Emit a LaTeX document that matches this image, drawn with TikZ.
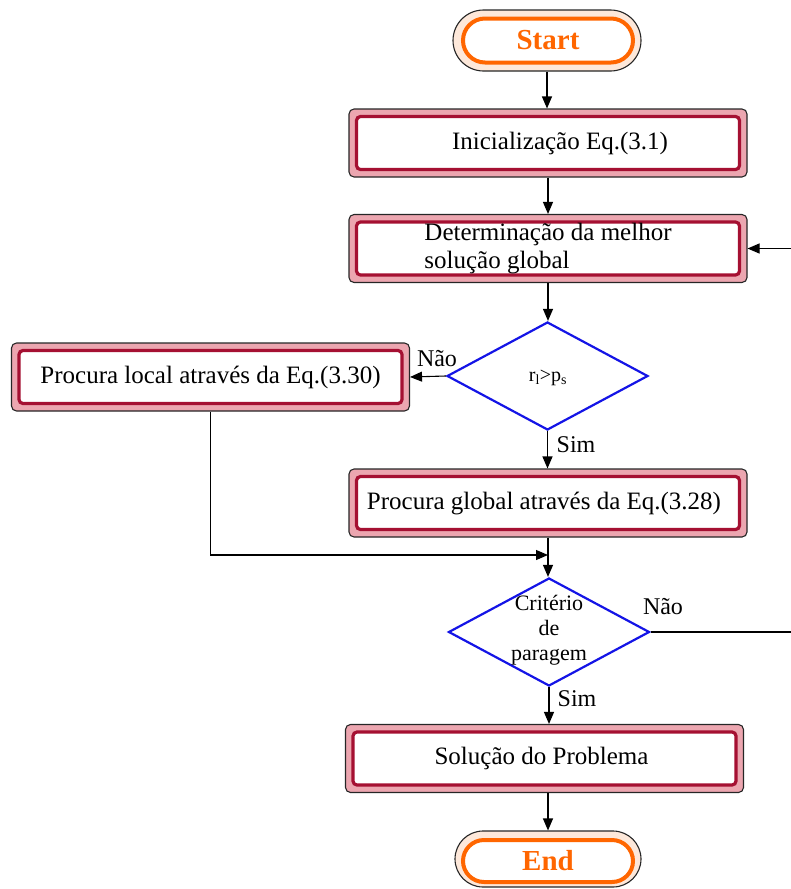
\documentclass[tikz,border=0pt]{standalone}
\usepackage{fontspec}
\setmainfont{Liberation Serif}
\usetikzlibrary{shapes.geometric,shapes.misc,arrows.meta,calc}
\definecolor{boxpink}{RGB}{236,166,176}
\definecolor{boxred}{RGB}{165,16,50}
\definecolor{termfill}{RGB}{253,232,218}
\definecolor{termline}{RGB}{255,102,0}
\definecolor{decblue}{RGB}{20,20,230}
\begin{document}
\begin{tikzpicture}[x=1pt,y=-1pt,
  procout/.style={draw=black!85, line width=1.1pt, fill=boxpink, rounded corners=5pt,
    minimum width=398pt, minimum height=68pt, inner sep=0pt},
  procin/.style={draw=boxred, line width=3.2pt, fill=white, rounded corners=4pt,
    minimum width=383pt, minimum height=53pt, inner sep=0pt,
    font=\fontsize{25}{28}\selectfont, align=center},
  termout/.style={rounded rectangle, draw=black!85, line width=1.1pt, fill=termfill,
    minimum width=188pt, minimum height=61pt, inner sep=0pt},
  termin/.style={rounded rectangle, draw=termline, line width=4pt, fill=white,
    minimum width=170pt, minimum height=44pt, inner sep=0pt, text=termline,
    font=\fontsize{29}{31}\selectfont\bfseries},
  decision/.style={diamond, draw=decblue, line width=2.2pt, fill=white,
    minimum width=201pt, minimum height=108pt, inner sep=0pt},
  arr/.style={draw=black, line width=1.1pt, -{Triangle[length=12pt,width=10pt]}},
  conn/.style={draw=black, line width=1.1pt},
  lbl/.style={font=\fontsize{24}{26}\selectfont, inner sep=0pt},
]
\useasboundingbox (0,0) rectangle (791,889);

% terminals and process boxes (outer frame, then inner frame with text)
\node[termout] (startO) at (547,40.5) {};
\node[termin] (start) at (548,40.5) {Start};

\node[procout] (initO) at (548,143) {};
\node[procin] (init) at (548,143) {\hspace*{24pt}Inicialização Eq.(3.1)};

\node[procout] (bestO) at (548,248.5) {};
\node[procin, align=left] (best) at (548,248.5) {Determinação da melhor\\solução global};

\node[decision] (d1) at (547.5,376) {};
\node[font=\fontsize{20}{22}\selectfont, inner sep=0pt] (d1t) at (548,378) {r\textsubscript{l}>p\textsubscript{s}};

\node[procout] (locO) at (210.5,377) {};
\node[procin] (loc) at (210.5,377) {Procura local através da Eq.(3.30)};

\node[procout] (globO) at (548,503) {};
\node[procin] (glob) at (548,503) {Procura global através da Eq.(3.28)\hspace*{8pt}};

\node[decision] (d2) at (549,632) {};
\node[align=center, font=\fontsize{22}{25}\selectfont, inner sep=0pt] (d2t) at (549,630) {Critério\\de\\paragem};

\node[procout] (solO) at (544.5,758.5) {};
\node[procin] (sol) at (544.5,758.5) {Solução do Problema\hspace*{6pt}};

\node[termout, minimum width=186pt, minimum height=56pt] (endO) at (548,859) {};
\node[termin, minimum height=42pt] (end) at (548,861) {End};

% connectors
\draw[arr] (startO.south) -- (startO.south |- initO.north);
\draw[arr] (initO.south) -- (bestO.north);
\draw[arr] (bestO.south) -- (bestO.south |- d1.north);
\draw[arr] (d1.west) -- (locO.east);
\draw[arr] (d1.south) -- (d1.south |- globO.north);
\coordinate (merge) at (548,555);
\draw[arr] (locO.south) |- (merge);
\draw[arr] (globO.south) -- (globO.south |- d2.north);
\draw[arr] (d2.south) -- (d2.south |- solO.north);
\draw[arr] (endO.north |- solO.south) -- (endO.north);
\draw[arr] (d2.east) -- ++(143,0) |- (bestO.east);

% branch labels
\node[lbl] (nao1) at (437,359) {Não};
\node[lbl] (sim1) at (576,445) {Sim};
\node[lbl] (nao2) at (663,607) {Não};
\node[lbl] (sim2) at (577,699) {Sim};
\end{tikzpicture}
\end{document}
